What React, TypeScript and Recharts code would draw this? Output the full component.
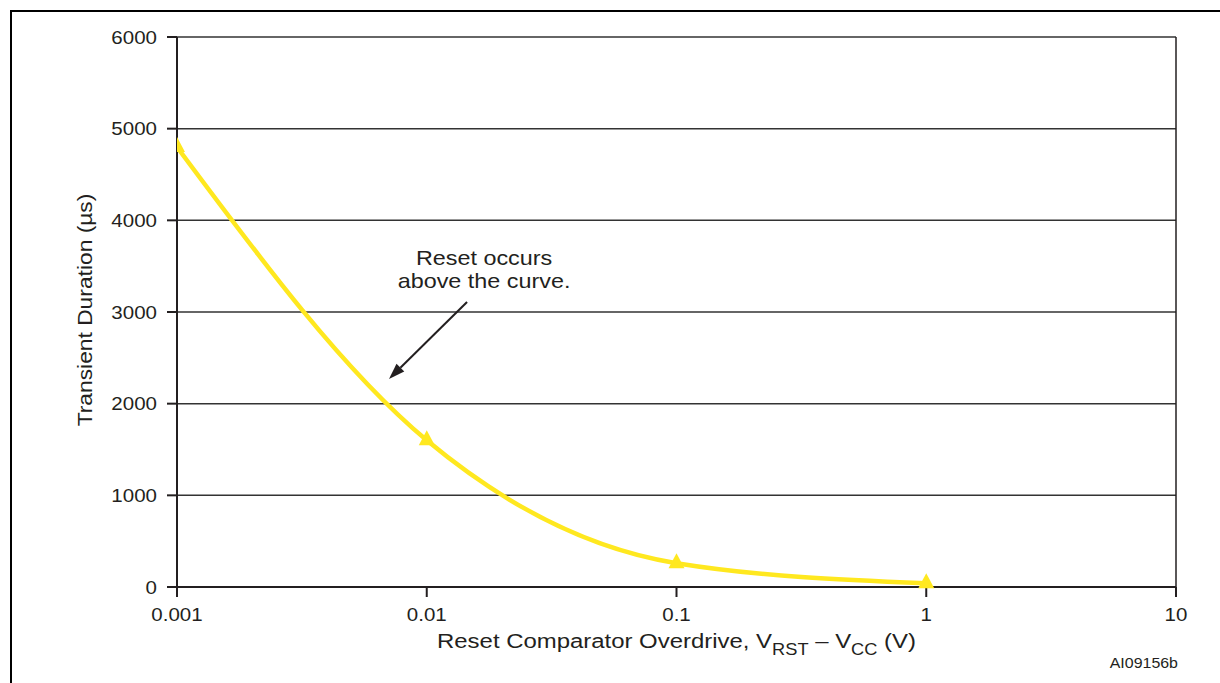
import React from 'react';
import {
  LineChart,
  Line,
  XAxis,
  YAxis,
  CartesianGrid,
  ReferenceLine,
} from 'recharts';

// values
const overdrive = [0.001, 0.01, 0.1, 1];
const duration = [4800, 1600, 260, 40];
const xTicks = [0.001, 0.01, 0.1, 1, 10];
const yTicks = [0, 1000, 2000, 3000, 4000, 5000, 6000];
const noteLines = ['Reset occurs', 'above the curve.'];
const arrowFrom = { x: 0.0145, y: 3110 };
const arrowTo = { x: 0.00706, y: 2270 };

const chartData = overdrive.map((v, i) => ({ overdrive: v, duration: duration[i] }));

const INK = '#231f20';
const YELLOW = '#ffe81f';
const FONT = "'Liberation Sans', Arial, Helvetica, sans-serif";
const SX = 1.14; // the source artwork is a bit stretched sideways

const SText = ({ x, y, size, anchor = 'middle', rotate = 0, weight = 'normal', fill = INK, children }: any) => (
  <text
    transform={`translate(${x} ${y}) rotate(${rotate}) scale(${SX} 1)`}
    x={0}
    y={0}
    textAnchor={anchor}
    fontSize={size}
    fontWeight={weight}
    fontFamily={FONT}
    fill={fill}
  >
    {children}
  </text>
);

const YTick = ({ x, y, payload }: any) => (
  <SText x={x} y={y + 6.5} size={18} anchor="end">
    {payload.value}
  </SText>
);

const XTick = ({ x, y, payload }: any) => (
  <SText x={x} y={y + 24} size={18}>
    {String(payload.value)}
  </SText>
);

const YLabel = ({ viewBox }: any) => {
  const cy = viewBox.y + viewBox.height / 2 - 2;
  return (
    <SText x={92} y={cy} size={20} rotate={-90}>
      Transient Duration (µs)
    </SText>
  );
};

const XLabel = ({ viewBox }: any) => {
  const cx = viewBox.x + viewBox.width / 2;
  const base = viewBox.y + 61;
  return (
    <g>
      <SText x={cx} y={base} size={21}>
        Reset Comparator Overdrive, V
        <tspan fontSize={16} dy={7}>RST</tspan>
        <tspan dy={-7}> – V</tspan>
        <tspan fontSize={16} dy={7}>CC</tspan>
        <tspan dy={-7}> (V)</tspan>
      </SText>
      <SText x={viewBox.x + viewBox.width + 2} y={base + 20} size={14} anchor="end">
        AI09156b
      </SText>
    </g>
  );
};

const Triangle = (props: any) => {
  const { cx, cy, index } = props;
  if (cx == null || cy == null) return null;
  return (
    <polygon
      key={`tri-${index}`}
      points={`${cx},${cy - 10} ${cx - 8},${cy + 5} ${cx + 8},${cy + 5}`}
      fill={YELLOW}
    />
  );
};

const NoteArrow = (props: any) => {
  const { x1, y1, x2, y2 } = props;
  const ang = Math.atan2(y2 - y1, x2 - x1);
  const len = 16;
  const half = 5.5;
  const bx = x2 - len * Math.cos(ang);
  const by = y2 - len * Math.sin(ang);
  const px = -Math.sin(ang) * half;
  const py = Math.cos(ang) * half;
  return (
    <g>
      <line x1={x1} y1={y1} x2={bx} y2={by} stroke={INK} strokeWidth={2} />
      <polygon points={`${x2},${y2} ${bx + px},${by + py} ${bx - px},${by - py}`} fill={INK} />
      {noteLines.map((t, i) => (
        <SText key={t} x={x1 + 17} y={y1 - 37 + i * 23} size={20.5}>
          {t}
        </SText>
      ))}
    </g>
  );
};

const App = () => {
  return (
    <div style={{ position: 'absolute', left: 0, top: 0, width: 1220, height: 683, background: '#fff', overflow: 'hidden' }}>
      <div
        style={{
          position: 'absolute',
          left: 10,
          top: 10,
          width: 1220,
          height: 700,
          borderTop: '2.5px solid #000',
          borderLeft: '2.5px solid #000',
        }}
      />
      <div style={{ position: 'absolute', left: 0, top: 0 }}>
        <LineChart
          width={1220}
          height={683}
          data={chartData}
          margin={{ top: 37, right: 44, bottom: 36, left: 0 }}
        >
          <CartesianGrid vertical={false} stroke="#333" strokeWidth={1.5} />
          <XAxis
            dataKey="overdrive"
            type="number"
            scale="log"
            domain={[0.001, 10]}
            ticks={xTicks}
            interval={0}
            allowDataOverflow
            height={60}
            tickSize={10}
            tickMargin={0}
            tick={<XTick />}
            axisLine={{ stroke: INK, strokeWidth: 2 }}
            tickLine={{ stroke: INK, strokeWidth: 2 }}
            label={<XLabel />}
          />
          <YAxis
            type="number"
            domain={[0, 6000]}
            ticks={yTicks}
            interval={0}
            width={177}
            tickSize={10}
            tickMargin={10}
            tick={<YTick />}
            axisLine={{ stroke: INK, strokeWidth: 2 }}
            tickLine={{ stroke: INK, strokeWidth: 2 }}
            label={<YLabel />}
          />
          <ReferenceLine x={10} stroke={INK} strokeWidth={1.5} />
          <ReferenceLine
            segment={[arrowFrom, arrowTo]}
            shape={(p: any) => <NoteArrow {...p} />}
          />
          <Line
            dataKey="duration"
            type="monotone"
            stroke={YELLOW}
            strokeWidth={4.5}
            dot={(p: any) => <Triangle key={`tri-${p.index}`} {...p} />}
            activeDot={false}
            isAnimationActive={false}
          />
        </LineChart>
      </div>
    </div>
  );
};

export default App;
